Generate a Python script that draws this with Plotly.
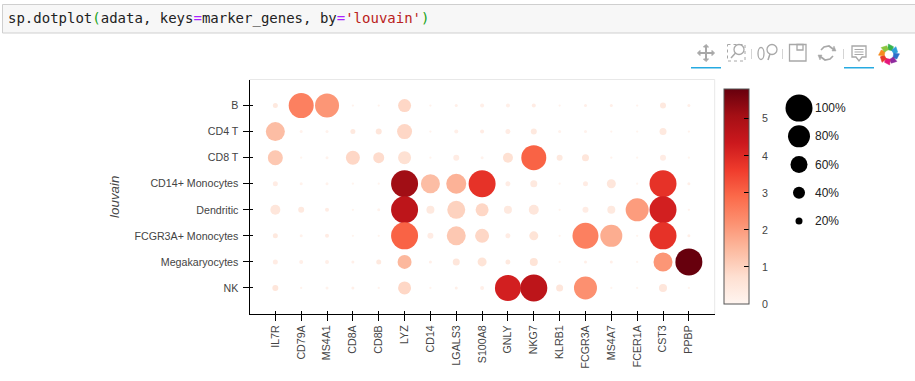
import math
import plotly.graph_objects as go
import plotly.express as px

W, H = 915, 381

genes = ["IL7R", "CD79A", "MS4A1", "CD8A", "CD8B", "LYZ", "CD14", "LGALS3", "S100A8",
         "GNLY", "NKG7", "KLRB1", "FCGR3A", "MS4A7", "FCER1A", "CST3", "PPBP"]
groups = ["B", "CD4 T", "CD8 T", "CD14+ Monocytes", "Dendritic", "FCGR3A+ Monocytes",
          "Megakaryocytes", "NK"]

# percent of cells expressing
pct_b     = [12, 92, 88, 1, 1, 44, 1, 4, 8, 8, 8, 1, 4, 4, 1, 16, 4]
pct_cd4   = [68, 4, 4, 12, 16, 52, 1, 8, 8, 12, 16, 4, 4, 1, 1, 20, 1]
pct_cd8   = [52, 1, 4, 48, 36, 44, 1, 16, 4, 32, 92, 16, 20, 1, 1, 16, 1]
pct_cd14  = [12, 4, 4, 1, 1, 100, 68, 72, 100, 12, 20, 1, 12, 28, 1, 100, 4]
pct_dend  = [32, 16, 8, 1, 4, 100, 24, 64, 44, 24, 32, 1, 16, 24, 84, 100, 1]
pct_fcgr  = [12, 4, 8, 1, 1, 100, 16, 68, 48, 12, 28, 1, 96, 80, 1, 100, 4]
pct_mega  = [12, 8, 8, 4, 12, 48, 4, 20, 28, 12, 24, 1, 4, 4, 1, 68, 100]
pct_nk    = [16, 1, 4, 4, 1, 44, 1, 4, 8, 96, 100, 20, 84, 1, 1, 24, 1]
pct_rows = [pct_b, pct_cd4, pct_cd8, pct_cd14, pct_dend, pct_fcgr, pct_mega, pct_nk]

# mean expression
mean_b    = [.4, 2.5, 2.1, .1, .1, .9, .1, .2, .2, .2, .3, .1, .2, .2, .1, .4, .2]
mean_cd4  = [1.4, .1, .1, .4, .5, .9, .1, .2, .3, .3, .4, .1, .1, .1, .05, .4, .1]
mean_cd8  = [1.2, .05, .1, .9, .8, .7, .05, .3, .1, .7, 3.0, .4, .5, .1, .05, .3, .05]
mean_cd14 = [.3, .1, .1, .05, .05, 5.1, 1.4, 1.6, 3.8, .3, .4, .05, .3, .5, .05, 3.8, .2]
mean_dend = [.5, .4, .3, .05, .1, 4.6, .4, 1.0, .9, .4, .5, .05, .3, .4, 2.0, 4.2, .1]
mean_fcgr = [.4, .1, .3, .05, .05, 3.0, .3, 1.2, .9, .3, .6, .05, 2.5, 1.7, .05, 3.8, .2]
mean_mega = [.3, .2, .2, .2, .4, 1.5, .2, .5, .6, .4, .6, .05, .2, .2, .05, 2.1, 5.78]
mean_nk   = [.5, .1, .1, .2, .1, .9, .05, .2, .2, 4.2, 4.6, .5, 2.2, .05, .05, .5, .05]
mean_rows = [mean_b, mean_cd4, mean_cd8, mean_cd14, mean_dend, mean_fcgr, mean_mega, mean_nk]

legend_pct = [100, 80, 60, 40, 20]
color_ticks = [0, 1, 2, 3, 4, 5]
color_max = 5.78


def diam(p):
    return 2 + 0.25 * p


def X(px_):
    return px_ / W


def Y(py_):
    return 1 - py_ / H


def P(pts, close=False):
    s = "M" + " L".join(f"{X(a):.5f},{Y(b):.5f}" for a, b in pts)
    return s + (" Z" if close else "")


reds = px.colors.sequential.Reds
xs, ys, sizes, colors = [], [], [], []
for g, pr, mr in zip(groups, pct_rows, mean_rows):
    for gene, p, m in zip(genes, pr, mr):
        xs.append(gene)
        ys.append(g)
        sizes.append(diam(p))
        colors.append(m)

fig = go.Figure()
fig.add_trace(go.Scatter(
    x=xs, y=ys, mode="markers", showlegend=False,
    marker=dict(
        size=sizes, sizemode="diameter", color=colors, colorscale=reds,
        cmin=0, cmax=color_max, line=dict(width=0), opacity=1,
        colorbar=dict(
            x=X(724), xanchor="left", xpad=0, ypad=0,
            y=Y(304), yanchor="bottom",
            thicknessmode="pixels", thickness=25,
            lenmode="pixels", len=214.5,
            outlinecolor="#555555", outlinewidth=1,
            ticks="inside", ticklen=5, tickcolor="#000000", tickwidth=1,
            tickvals=color_ticks, showticklabels=False,
        ),
    ),
))
# same axes again, for the inner half of the ticks
fig.add_trace(go.Scatter(
    x=xs, y=ys, mode="markers", xaxis="x2", yaxis="y2", showlegend=False,
    hoverinfo="skip", marker=dict(opacity=0, size=1),
))
# size legend
fig.add_trace(go.Scatter(
    x=["size"] * len(legend_pct), y=[f"{p}%" for p in legend_pct],
    mode="markers", xaxis="x3", yaxis="y3", showlegend=False,
    marker=dict(size=[diam(p) for p in legend_pct], sizemode="diameter",
                color="#000000", line=dict(width=0), opacity=1),
))

dom_x = [X(249.5), X(714.7)]
dom_y = [Y(314), Y(79.5)]
tickfont = dict(family="Liberation Sans", size=10.67, color="#444444")

fig.update_layout(
    width=W, height=H, autosize=False,
    margin=dict(l=0, r=0, t=0, b=0),
    paper_bgcolor="#ffffff", plot_bgcolor="#ffffff",
    xaxis=dict(
        domain=dom_x, type="category", categoryorder="array", categoryarray=genes,
        range=[-1, 17], showgrid=False, zeroline=False, showline=True,
        linecolor="#000000", linewidth=1, ticks="outside", ticklen=6,
        tickcolor="#000000", tickwidth=1, tickangle=-90, tickfont=tickfont,
        anchor="y", automargin=False,
    ),
    yaxis=dict(
        domain=dom_y, type="category", categoryorder="array", categoryarray=groups,
        range=[7.999, -1], showgrid=False, zeroline=False, showline=True,
        linecolor="#000000", linewidth=1, ticks="outside", ticklen=6,
        tickcolor="#000000", tickwidth=1, tickfont=tickfont, ticklabelstandoff=2,
        title=dict(text="<i>louvain</i>", standoff=11,
                   font=dict(family="Liberation Sans", size=13.33, color="#444444")),
        anchor="x", automargin=False,
    ),
    xaxis2=dict(
        domain=dom_x, type="category", categoryorder="array", categoryarray=genes,
        range=[-1, 17], overlaying="x", anchor="y2", showgrid=False, zeroline=False,
        showline=False, ticks="inside", ticklen=3, tickcolor="#000000", tickwidth=1,
        showticklabels=False,
    ),
    yaxis2=dict(
        domain=dom_y, type="category", categoryorder="array", categoryarray=groups,
        range=[7.999, -1], overlaying="y", anchor="x2", showgrid=False, zeroline=False,
        showline=False, ticks="inside", ticklen=3, tickcolor="#000000", tickwidth=1,
        showticklabels=False,
    ),
    xaxis3=dict(domain=[X(785), X(813)], visible=False, anchor="y3", type="category"),
    yaxis3=dict(domain=[Y(235.2), Y(94)], visible=False, anchor="x3", type="category",
                categoryorder="array", categoryarray=[f"{p}%" for p in legend_pct],
                range=[4.5, -0.5]),
)

# code line
code = ('sp.dotplot<span style="color:#19a319">(</span>adata, keys'
        '<span style="color:#aa22ff">=</span>marker_genes, by'
        '<span style="color:#aa22ff">=</span>'
        "<span style=\"color:#ba2121\">'louvain'</span>"
        '<span style="color:#19a319">)</span>')
annotations = [dict(
    x=X(6), y=Y(19), xref="paper", yref="paper", xanchor="left", yanchor="middle",
    text=code, showarrow=False,
    font=dict(family="DejaVu Sans Mono", size=14, color="#222222"),
)]
for p in legend_pct:
    annotations.append(dict(
        x=X(812.5), y=f"{p}%", xref="paper", yref="y3", xanchor="left", yanchor="middle",
        text=f"{p}%", showarrow=False,
        font=dict(family="Liberation Sans", size=12, color="#222222"),
    ))
# colour bar tick labels sit further out than the bar's own labels can
for v in color_ticks:
    annotations.append(dict(
        x=X(760), y=Y(304 - v / color_max * 214.5), xref="paper", yref="paper",
        xanchor="left", yanchor="middle", text=str(v), showarrow=False,
        font=dict(family="Liberation Sans", size=10.67, color="#444444"),
    ))
fig.update_layout(annotations=annotations)

shapes = []
ICON = "#a8a8a8"


def rect(x0, y0, x1, y1, line=ICON, width=1, fill=None, dash=None, layer="above"):
    shapes.append(dict(type="rect", xref="paper", yref="paper", x0=X(x0), x1=X(x1),
                       y0=Y(y0), y1=Y(y1), layer=layer, fillcolor=fill or "rgba(0,0,0,0)",
                       line=dict(color=line, width=width, dash=dash or "solid")))


def poly(pts, line=ICON, width=1.5, fill=None, close=False):
    shapes.append(dict(type="path", xref="paper", yref="paper", path=P(pts, close),
                       fillcolor=fill or "rgba(0,0,0,0)", layer="above",
                       line=dict(color=line, width=width)))


def circ(cx, cy, rx, ry=None, line=ICON, width=1.3, fill=None):
    ry = ry or rx
    shapes.append(dict(type="circle", xref="paper", yref="paper", x0=X(cx - rx), x1=X(cx + rx),
                       y0=Y(cy - ry), y1=Y(cy + ry), layer="above",
                       fillcolor=fill or "rgba(0,0,0,0)", line=dict(color=line, width=width)))


# code cell box
rect(2.5, 4.5, 916, 33, line="#cfcfcf", fill="#f7f7f7", layer="below")
# plot outline
poly([(249.5, 79.5), (714.7, 79.5), (714.7, 314)], line="#e8e8e8", width=1)
# toolbar: active underlines
rect(691, 67, 721, 68.5, line="#26aae1", fill="#26aae1", width=0)
rect(844, 67, 874, 68.5, line="#26aae1", fill="#26aae1", width=0)
# pan
poly([(706, 46), (706, 60)], width=2)
poly([(699, 53), (713, 53)], width=2)
poly([(703.5, 47), (706, 44.5), (708.5, 47)], fill=ICON, close=True, width=1)
poly([(703.5, 59), (706, 61.5), (708.5, 59)], fill=ICON, close=True, width=1)
poly([(700, 50.5), (697.5, 53), (700, 55.5)], fill=ICON, close=True, width=1)
poly([(712, 50.5), (714.5, 53), (712, 55.5)], fill=ICON, close=True, width=1)
# box zoom
rect(727.5, 44.5, 745, 61, dash="dot", width=1)
circ(739, 49.5, 5)
poly([(735.5, 53), (731, 58)], width=1.5)
# separators
for sx in (751.5, 782.5, 843.5):
    poly([(sx, 49), (sx, 59)], line="#d4d4d4", width=1)
# wheel zoom
circ(761, 53.5, 3, 6)
circ(772, 49.5, 5)
poly([(770, 54), (768, 60)], width=1.5)
# save
rect(789.5, 44.5, 806, 61, width=1.3)
rect(797, 44.5, 803, 50, width=1.3)
# reset
poly([(821, 50), (824, 47), (829, 46), (833, 49)], width=1.7)
poly([(833, 56), (830, 59), (825, 60), (821, 57)], width=1.7)
poly([(832, 51), (836, 51), (834, 46)], fill=ICON, close=True, width=0.5)
poly([(822, 55), (818, 55), (820, 60)], fill=ICON, close=True, width=0.5)
# hover
poly([(852, 46), (866, 46), (866, 57), (862, 57), (859, 61), (856, 57), (852, 57)], close=True, width=1.3)
for ly in (49.5, 52, 54.5):
    poly([(854.5, ly), (863.5, ly)], width=1)
# logo
logo_cols = ["#37b24d", "#2c9fd9", "#2c6fc9", "#8e2a9e", "#e5177b", "#e8392b", "#f58a1f", "#8cc63f"]
cx, cy = 889, 54.5
for i, col in enumerate(logo_cols):
    a0 = math.radians(-90 + 45 * i - 15)
    a1 = math.radians(-90 + 45 * i + 30)
    a2 = a1 - math.radians(25)
    pts = [(cx + 5 * math.cos(a0), cy + 5 * math.sin(a0)),
           (cx + 10.5 * math.cos(a0 + .2), cy + 10.5 * math.sin(a0 + .2)),
           (cx + 9 * math.cos(a1), cy + 9 * math.sin(a1)),
           (cx + 5 * math.cos(a2 + .6), cy + 5 * math.sin(a2 + .6))]
    poly(pts, line=col, width=0.5, fill=col, close=True)
fig.update_layout(shapes=shapes)

fig.write_html("out.html", config={"displayModeBar": False},
               post_script="document.body.style.margin='0';document.body.style.overflow='hidden';")
